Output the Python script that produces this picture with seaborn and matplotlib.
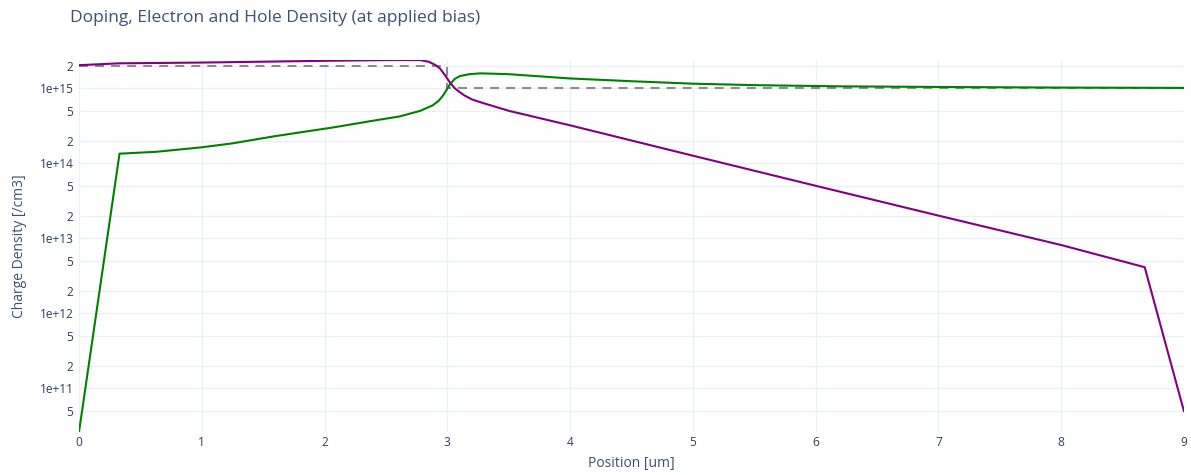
import matplotlib
matplotlib.use("Agg")
import matplotlib.pyplot as plt
import seaborn as sns
import numpy as np
import pandas as pd

# ---- data ----
pos_n = [0, 0.33, 0.63, 1.0, 1.25, 1.6, 2.07, 2.4, 2.61, 2.78, 2.88, 2.93, 2.97, 3.02, 3.06,
         3.10, 3.18, 3.27, 3.5, 4.0, 4.5, 5.0, 5.5, 6.2, 7.0, 8.0, 9.0]
electron = [2.6e10, 1.34e14, 1.42e14, 1.63e14, 1.84e14, 2.3e14, 3.0e14, 3.7e14, 4.2e14,
            5.0e14, 5.9e14, 6.8e14, 8.2e14, 1.12e15, 1.33e15, 1.45e15, 1.54e15, 1.58e15,
            1.54e15, 1.35e15, 1.24e15, 1.15e15, 1.10e15, 1.06e15, 1.04e15, 1.02e15, 1.01e15]

pos_p = [0, 0.33, 1.0, 2.07, 2.6, 2.78, 2.85, 2.9, 2.94, 2.98, 3.02, 3.06, 3.10, 3.14,
         3.2, 3.27, 3.5, 4.0, 5.0, 6.0, 7.0, 8.0, 8.68, 9.0]
hole = [2.03e15, 2.15e15, 2.2e15, 2.33e15, 2.38e15, 2.37e15, 2.25e15, 2.05e15, 1.84e15,
        1.5e15, 1.2e15, 1.0e15, 8.9e14, 8.0e14, 7.1e14, 6.5e14, 5.0e14, 3.2e14, 1.26e14,
        5.0e13, 2.0e13, 8.1e12, 4.1e12, 4.9e10]

pos_d = [0, 3.0, 3.0, 9.0]
doping = [2e15, 2e15, 1e15, 1e15]

x_ticks = list(range(0, 10))
y_ticks = [5e10, 1e11, 2e11, 5e11, 1e12, 2e12, 5e12, 1e13, 2e13, 5e13,
           1e14, 2e14, 5e14, 1e15, 2e15]
y_tick_labels = ["5", "1e+11", "2", "5", "1e+12", "2", "5", "1e+13", "2", "5",
                 "1e+14", "2", "5", "1e+15", "2"]

title = "Doping, Electron and Hole Density (at applied bias)"
x_label = "Position [um]"
y_label = "Charge Density [/cm3]"

# ---- style ----
sns.set_style("white")
plt.rcParams['font.family'] = ['Open Sans', 'DejaVu Sans']
txt = "#2a3f5f"
title_col = "#3d5070"
grid = "#EBF0F8"

W, H = 1191, 475
fig = plt.figure(figsize=(W / 100, H / 100), dpi=100)
ax = fig.add_axes([79 / W, 1 - 432 / H, (1184 - 79) / W, (432 - 60) / H])

sns.lineplot(x=pos_d, y=doping, ax=ax, color="#8c8c8c", lw=1.5, estimator=None, sort=False,
             zorder=3)
ax.lines[-1].set_dashes((4.3, 3.4))
sns.lineplot(x=pos_n, y=electron, ax=ax, color="green", lw=1.5, estimator=None, sort=False, zorder=4)
sns.lineplot(x=pos_p, y=hole, ax=ax, color="purple", lw=1.5, estimator=None, sort=False, zorder=5)

ax.set_yscale("log")
allv = electron + hole + doping
ax.set_ylim(min(allv), max(allv))
ax.set_xlim(0, 9)

ax.set_xticks(x_ticks)
ax.set_xticklabels([str(t) for t in x_ticks])
ax.set_yticks(y_ticks)
ax.set_yticklabels(y_tick_labels)
ax.yaxis.set_minor_locator(matplotlib.ticker.NullLocator())
ax.tick_params(axis="both", length=0, labelsize=8.6, colors=txt)
ax.tick_params(axis="y", pad=4)
ax.tick_params(axis="x", pad=3)
ax.grid(True, color=grid, lw=1, zorder=0)
ax.set_axisbelow(True)
for s in ax.spines.values():
    s.set_visible(False)

ax.set_xlabel(x_label, fontsize=10, color=title_col, labelpad=5)
ax.set_ylabel(y_label, fontsize=10, color=title_col, labelpad=9)
fig.text(70 / W, 1 - 18 / H, title, fontsize=12.5, color=title_col, ha="left", va="center")

fig.savefig("out.png", dpi=100)
